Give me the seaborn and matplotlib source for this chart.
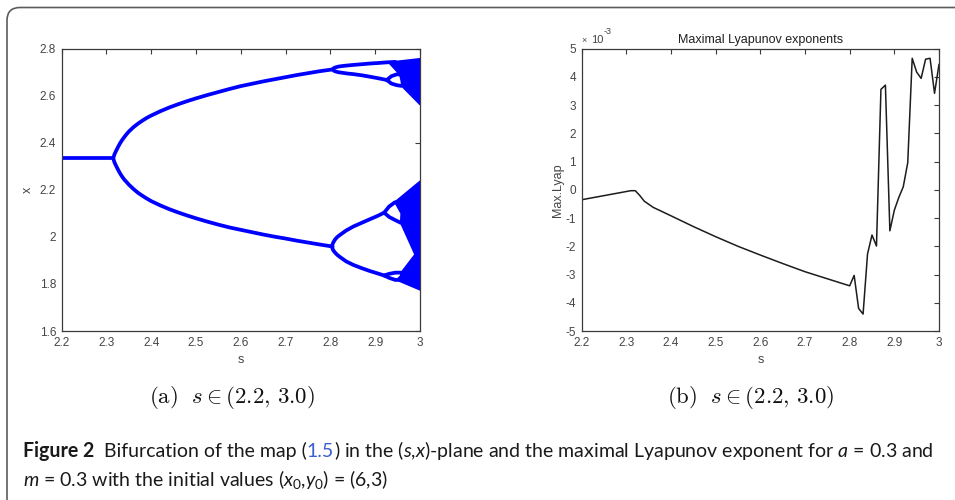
import matplotlib
matplotlib.use("Agg")
import numpy as np
import pandas as pd
import seaborn as sns
import matplotlib.pyplot as plt
from matplotlib.patches import FancyBboxPatch
from matplotlib.ticker import FixedLocator, FuncFormatter
from matplotlib.transforms import IdentityTransform
from matplotlib import font_manager

# ---------------- bifurcation diagram: branches in the (s, x)-plane ----------------
fixed_s = [2.200, 2.315]
fixed_x = [2.334, 2.334]

p2_s  = [2.315, 2.318, 2.322, 2.326, 2.330, 2.335, 2.340, 2.345, 2.350, 2.360,
         2.370, 2.380, 2.390, 2.400, 2.420, 2.440, 2.460, 2.480, 2.500, 2.525,
         2.550, 2.575, 2.600, 2.625, 2.650, 2.675, 2.700, 2.725, 2.750, 2.775, 2.805]
p2_hi = [2.334, 2.352, 2.368, 2.383, 2.397, 2.412, 2.425, 2.437, 2.448, 2.466,
         2.481, 2.494, 2.506, 2.516, 2.534, 2.550, 2.564, 2.577, 2.589, 2.603,
         2.616, 2.629, 2.641, 2.651, 2.661, 2.670, 2.679, 2.688, 2.696, 2.704, 2.712]
p2_lo = [2.334, 2.316, 2.300, 2.285, 2.271, 2.256, 2.243, 2.233, 2.222, 2.204,
         2.188, 2.175, 2.163, 2.152, 2.134, 2.118, 2.104, 2.091, 2.079, 2.065,
         2.052, 2.040, 2.030, 2.020, 2.010, 2.001, 1.993, 1.984, 1.976, 1.968, 1.959]

# period-4 branches born from the upper period-2 point
p4a_hi_s = [2.805, 2.808, 2.812, 2.818, 2.825, 2.840, 2.851, 2.870, 2.888, 2.905, 2.926, 2.945]
p4a_hi   = [2.712, 2.718, 2.721, 2.724, 2.726, 2.729, 2.731, 2.734, 2.737, 2.739, 2.742, 2.744]
p4a_lo_s = [2.805, 2.808, 2.812, 2.818, 2.825, 2.840, 2.851, 2.870, 2.888, 2.905, 2.926]
p4a_lo   = [2.712, 2.706, 2.703, 2.700, 2.698, 2.694, 2.692, 2.687, 2.681, 2.675, 2.667]

# period-4 branches born from the lower period-2 point
p4b_s  = [2.803, 2.806, 2.810, 2.815, 2.821, 2.835, 2.851, 2.870, 2.888, 2.905, 2.920]
p4b_hi = [1.959, 1.975, 1.988, 1.999, 2.008, 2.027, 2.044, 2.060, 2.075, 2.089, 2.103]
p4b_lo = [1.959, 1.944, 1.934, 1.924, 1.915, 1.896, 1.881, 1.867, 1.855, 1.845, 1.836]

# period-8 bubbles
b1_s  = [2.926, 2.936, 2.948, 2.958]
b1_hi = [2.667, 2.683, 2.691, 2.690]
b1_lo = [2.667, 2.652, 2.645, 2.642]
b2_s  = [2.920, 2.931, 2.944, 2.957]
b2_hi = [2.103, 2.129, 2.147, 2.148]
b2_lo = [2.103, 2.085, 2.072, 2.060]
b3_s  = [2.920, 2.931, 2.945, 2.957]
b3_hi = [1.836, 1.843, 1.848, 1.848]
b3_lo = [1.836, 1.826, 1.817, 1.818]

# chaotic bands (outline of the filled attractor)
chaos_up_s = [2.930, 3.000, 3.000, 2.960, 2.958, 2.955]
chaos_up_x = [2.742, 2.757, 2.563, 2.640, 2.665, 2.690]
chaos_lo_s = [2.944, 3.000, 3.000, 2.948, 2.957, 2.958, 2.989, 2.957, 2.958]
chaos_lo_x = [2.148, 2.236, 1.775, 1.817, 1.835, 1.848, 1.925, 2.060, 2.100]

# ---------------- maximal Lyapunov exponent (units of 1e-3) ----------------
lyap_s = [2.20, 2.31, 2.32, 2.33, 2.34, 2.36, 2.40, 2.45, 2.50, 2.55, 2.60, 2.65,
          2.70, 2.75, 2.80, 2.81, 2.82, 2.83, 2.84, 2.85, 2.86, 2.87, 2.88, 2.89,
          2.90, 2.91, 2.92, 2.93, 2.94, 2.95, 2.96, 2.97, 2.98, 2.99, 3.00]
lyap_milli = [-0.35, -0.03, -0.03, -0.20, -0.40, -0.62, -0.92, -1.30, -1.66, -2.00,
              -2.31, -2.61, -2.90, -3.15, -3.40, -3.03, -4.20, -4.40, -2.27, -1.60,
              -1.99, 3.56, 3.71, -1.45, -0.72, -0.27, 0.11, 0.96, 4.66, 4.17,
              3.95, 4.63, 4.66, 3.42, 4.45]

s_ticks = [2.2, 2.3, 2.4, 2.5, 2.6, 2.7, 2.8, 2.9, 3.0]
x_ticks = [1.6, 1.8, 2.0, 2.2, 2.4, 2.6, 2.8]
lyap_ticks = [-5, -4, -3, -2, -1, 0, 1, 2, 3, 4, 5]

# ---------------- styling ----------------
sns.set_theme(style="white")
plt.rcParams["font.family"] = ["Liberation Sans", "DejaVu Sans"]
plt.rcParams["axes.unicode_minus"] = False


def have(name):
    try:
        font_manager.findfont(name, fallback_to_default=False)
        return True
    except Exception:
        return False


cap_font = "Lato" if have("Lato") else "DejaVu Sans"
plt.rcParams["mathtext.fontset"] = "custom"
plt.rcParams["mathtext.rm"] = cap_font
plt.rcParams["mathtext.it"] = cap_font + ":italic"
plt.rcParams["mathtext.bf"] = cap_font + ":bold"

W, H = 955, 500
fig = plt.figure(figsize=(W / 100, H / 100), dpi=100)
renderer = fig.canvas.get_renderer()

BLUE = "#0000ff"
AX_GRAY = "#3a3a3a"
TICK_GRAY = "#454545"


def frac_box(l, t, r, b):
    return [l / W, 1 - b / H, (r - l) / W, (b - t) / H]


def style_axes(ax):
    for sp in ax.spines.values():
        sp.set_color(AX_GRAY)
        sp.set_linewidth(0.9)
    ax.tick_params(direction="in", top=True, right=True, length=3.5, width=0.8,
                   color=AX_GRAY, labelcolor=TICK_GRAY, labelsize=8.5, pad=4)
    ax.set_xlim(2.2, 3.0)
    ax.xaxis.set_major_locator(FixedLocator(s_ticks))
    ax.xaxis.set_major_formatter(FuncFormatter(lambda v, p: f"{v:g}"))
    ax.set_xlabel("s", fontsize=9, color=TICK_GRAY, labelpad=4)


# ---- left: bifurcation diagram ----
ax1 = fig.add_axes(frac_box(61.7, 48.7, 420, 331))
rows = []
branches = {
    "fixed": (fixed_s, fixed_x),
    "p2_hi": (p2_s, p2_hi), "p2_lo": (p2_s, p2_lo),
    "p4a_hi": (p4a_hi_s, p4a_hi), "p4a_lo": (p4a_lo_s, p4a_lo),
    "p4b_hi": (p4b_s, p4b_hi), "p4b_lo": (p4b_s, p4b_lo),
    "b1_hi": (b1_s, b1_hi), "b1_lo": (b1_s, b1_lo),
    "b2_hi": (b2_s, b2_hi), "b2_lo": (b2_s, b2_lo),
    "b3_hi": (b3_s, b3_hi), "b3_lo": (b3_s, b3_lo),
}
for name, (ss, xs) in branches.items():
    for s_val, x_val in zip(ss, xs):
        rows.append({"s": s_val, "x": x_val, "branch": name})
bif = pd.DataFrame(rows)
sns.lineplot(data=bif, x="s", y="x", units="branch", estimator=None, sort=False,
             color=BLUE, linewidth=2.7, solid_capstyle="round",
             solid_joinstyle="round", ax=ax1, legend=False)
ax1.fill(chaos_up_s, chaos_up_x, color=BLUE, lw=1.2, ec=BLUE, joinstyle="round")
ax1.fill(chaos_lo_s, chaos_lo_x, color=BLUE, lw=1.2, ec=BLUE, joinstyle="round")
style_axes(ax1)
ax1.set_ylim(1.6, 2.8)
ax1.yaxis.set_major_locator(FixedLocator(x_ticks))
ax1.yaxis.set_major_formatter(FuncFormatter(lambda v, p: f"{v:g}"))
ax1.set_ylabel("x", fontsize=9, color=TICK_GRAY, labelpad=4)

# ---- right: maximal Lyapunov exponent ----
ax2 = fig.add_axes(frac_box(581.7, 48.7, 939, 331))
lyap = pd.DataFrame({"s": lyap_s, "lyap": np.array(lyap_milli) * 1e-3})
sns.lineplot(data=lyap, x="s", y="lyap", color="#1c1c1c", linewidth=1.1,
             ax=ax2, legend=False)
style_axes(ax2)
ax2.set_ylim(-5e-3, 5e-3)
ax2.yaxis.set_major_locator(FixedLocator(np.array(lyap_ticks) * 1e-3))
ax2.yaxis.set_major_formatter(FuncFormatter(lambda v, p: f"{round(v * 1e3):d}"))
ax2.text(0.0, 1.012, "\u00d7", transform=ax2.transAxes, ha="left", va="bottom",
         fontsize=6.5, color=TICK_GRAY)
ax2.text(0.025, 1.012, "10", transform=ax2.transAxes, ha="left", va="bottom",
         fontsize=8, color=TICK_GRAY)
ax2.text(0.062, 1.045, "-3", transform=ax2.transAxes, ha="left", va="bottom",
         fontsize=6.5, color=TICK_GRAY)
ax2.set_ylabel("Max.Lyap", fontsize=9, color=TICK_GRAY, labelpad=1)
ax2.set_title("Maximal Lyapunov exponents", fontsize=9, color="#202020", pad=4)

# ---- rounded frame around the figure block ----
frame = FancyBboxPatch((7, -40), 1100, 500 - 7 + 40 - 0.5,
                       boxstyle="round,pad=0,rounding_size=13",
                       transform=IdentityTransform(), fc="none",
                       ec="#5c5c5c", lw=1.2, zorder=0)
fig.patches.append(frame)


# ---- sub-captions (Computer Modern, sized to the column) ----
def text_width(txt, **kw):
    probe = fig.text(0, 0, txt + "|", **kw)
    bar = fig.text(0, 0, "|", **kw)
    w = probe.get_window_extent(renderer).width - bar.get_window_extent(renderer).width
    probe.remove()
    bar.remove()
    return w


sub_tpl = r"$\mathrm{(%s)}\ \ s \in (2.2,\,3.0)$"
sub_size = 12.0 * 167.0 / text_width(sub_tpl % "a", fontsize=12.0, math_fontfamily="cm")
for label, cx in (("a", 231.7), ("b", 751.0)):
    fig.text(cx / W, 1 - 403 / H, sub_tpl % label, ha="center", va="baseline",
             fontsize=sub_size, color="#111111", math_fontfamily="cm")


# ---- figure caption, laid out run by run ----
def draw_runs(x0, baseline, runs, size):
    x = x0
    for txt, kw in runs:
        props = dict(fontsize=size, family=cap_font, color="#1a1a1a")
        props.update(kw)
        fig.text(x / W, 1 - baseline / H, txt, va="baseline", ha="left", **props)
        x += text_width(txt, **props)
    return x


line1 = [("Figure 2  ", {"fontweight": "bold"}),
         ("Bifurcation of the map (", {}),
         ("1.5", {"color": "#3a5fd0"}),
         (") in the ($s$,$x$)-plane and the maximal Lyapunov exponent for $a$ = 0.3 and", {})]
line2 = [("$m$ = 0.3 with the initial values ($x_0$,$y_0$) = (6,3)", {})]

# fit the first caption line to the frame width
size = 12.0
w = sum(text_width(t, fontsize=size, family=cap_font,
                   **{k: v for k, v in kw.items() if k != "color"})
        for t, kw in line1)
size = size * 909.0 / w
draw_runs(23.0, 457.3, line1, size)
draw_runs(22.7, 486.0, line2, size)

fig.savefig("out.png", dpi=100)
